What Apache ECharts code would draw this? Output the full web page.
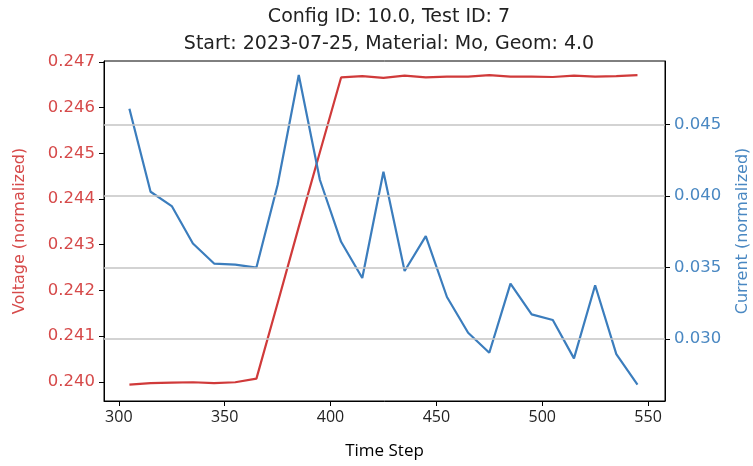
<!DOCTYPE html>
<html>
<head>
<meta charset="utf-8">
<script src="https://cdn.jsdelivr.net/npm/echarts@6/dist/echarts.min.js"></script>
<style>html,body{margin:0;padding:0;background:#fff;}#c{width:753px;height:466px;}</style>
</head>
<body>
<div id="c"></div>
<script>
const timeSteps = [305,315,325,335,345,355,365,375,385,395,405,415,425,435,445,455,465,475,485,495,505,515,525,535,545];
const voltage = [0.23994,0.23997,0.23998,0.23999,0.23997,0.23999,0.24007,0.24172,0.24339,0.24503,0.24666,0.24669,0.24665,0.24670,0.24666,0.24668,0.24668,0.24671,0.24668,0.24668,0.24667,0.24670,0.24668,0.24669,0.24671];
const current = [0.0461,0.0403,0.0393,0.03668,0.03528,0.03521,0.0350,0.04077,0.04846,0.04112,0.0368,0.03427,0.0417,0.03476,0.0372,0.03294,0.03044,0.02904,0.03388,0.03173,0.03133,0.02865,0.03376,0.02895,0.02682];
const xTicks = [300,350,400,450,500,550];
const vTicks = [0.240,0.241,0.242,0.243,0.244,0.245,0.246,0.247];
const cTicks = [0.030,0.035,0.040,0.045];
const titleLines = ['Config ID: 10.0, Test ID: 7','Start: 2023-07-25, Material: Mo, Geom: 4.0'];

const red = '#d03a3a', blue = '#3b7dbd';
const redLbl = '#d64a4a', blueLbl = '#4a88c2';
const chart = echarts.init(document.getElementById('c'));
chart.setOption({
  animation:false,
  title:{text:titleLines.join('\n'), left:384, textAlign:'center', top:-1,
    textStyle:{fontFamily:'DejaVu Sans', fontSize:19, fontWeight:'normal', color:'#222', lineHeight:27}},
  grid:{left:104, right:88, top:61, bottom:65, show:true, borderColor:'#000', borderWidth:1, backgroundColor:'transparent', containLabel:false, outerBoundsMode:'none'},
  xAxis:{type:'value', min:293, max:558, name:'Time Step', nameLocation:'middle', nameGap:42,
    nameTextStyle:{fontFamily:'Open Sans', fontSize:17, color:'#000'},
    axisLine:{show:true, onZero:false, lineStyle:{color:'#000'}},
    axisTick:{show:true, length:5, lineStyle:{color:'#000'}, customValues:xTicks},
    axisLabel:{fontFamily:'Open Sans', fontSize:16, color:'#222', margin:8, customValues:xTicks},
    splitLine:{show:false}},
  yAxis:[
    {type:'value', min:0.23958, max:0.24702, position:'left', name:'Voltage (normalized)', nameLocation:'middle', nameGap:76,
      nameTextStyle:{fontFamily:'DejaVu Sans', fontSize:16, color:redLbl},
      axisLine:{show:true, lineStyle:{color:'#000'}},
      axisTick:{show:true, length:5, lineStyle:{color:'#000'}, customValues:vTicks},
      axisLabel:{fontFamily:'DejaVu Sans', fontSize:16.5, color:redLbl, margin:9, customValues:vTicks, formatter:v=>v.toFixed(3)},
      splitLine:{show:false}},
    {type:'value', min:0.02567, max:0.04944, position:'right', name:'Current (normalized)', nameLocation:'middle', nameGap:70,
      nameTextStyle:{fontFamily:'DejaVu Sans', fontSize:16, color:blueLbl},
      axisLine:{show:true, lineStyle:{color:'#000'}},
      axisTick:{show:true, length:5, lineStyle:{color:'#000'}, customValues:cTicks},
      axisLabel:{fontFamily:'DejaVu Sans', fontSize:16.5, color:blueLbl, margin:9, customValues:cTicks, formatter:v=>v.toFixed(3)},
      splitLine:{show:false}}
  ],
  series:[
    {type:'line', yAxisIndex:1, data:timeSteps.map((t,i)=>[t,current[i]]), showSymbol:false, lineStyle:{color:blue, width:2.2}, itemStyle:{color:blue},
      markLine:{silent:true, symbol:'none', precision:4, label:{show:false}, lineStyle:{color:'#c4c4c4', width:1.5, type:'solid'},
        data:cTicks.map(v=>({yAxis:v}))}, z:3},
    {type:'line', yAxisIndex:0, data:timeSteps.map((t,i)=>[t,voltage[i]]), showSymbol:false, lineStyle:{color:red, width:2.2}, itemStyle:{color:red}, z:2}
  ]
});
</script>
</body>
</html>
